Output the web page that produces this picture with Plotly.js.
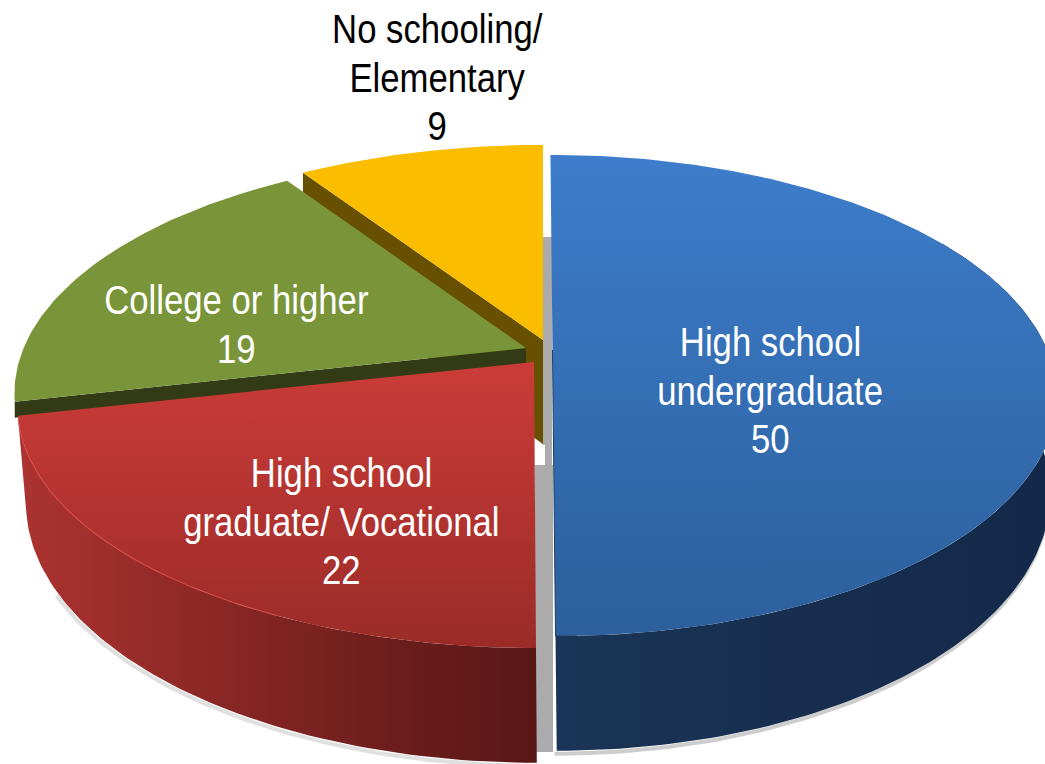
<!DOCTYPE html>
<html>
<head>
<meta charset="utf-8">
<script src="https://cdn.plot.ly/plotly-3.0.1.min.js"></script>
<style>html,body{margin:0;padding:0;background:#fff;overflow:hidden}#chart{width:1045px;height:764px}</style>
</head>
<body>
<div id="chart"></div>
<script>
// ---- data ----
var categories = ["High school undergraduate", "High school graduate/ Vocational", "College or higher", "No schooling/ Elementary"];
var values = [50, 22, 19, 9];
var labelLines = [["High school", "undergraduate", "50"], ["High school", "graduate/ Vocational", "22"], ["College or higher", "19"], ["No schooling/", "Elementary", "9"]];

// ---- placement and style ----
var labelX = [770, 341, 236, 437];
var labelFirstY = [342, 473, 300, 29];
var LINE_STEP = 48.5, FONT_SIZE = 40, TEXT_SQUEEZE = 0.868;
var labelColor = ["#ffffff", "#ffffff", "#ffffff", "#000000"];
var apexX = [552.5, 534, 526, 543];
var apexY = [350, 362, 348, 340];
var skew = [0.0105, 0.007, 0, 0];
var radiusScale = [0.97, 0.995, 0.985, 0.99];
var gradientStart = [155, 362, 150, 145];
var gradientStop = [635, 648, 400, 340];
var topColors = [["#3d7dcb", "#2c5f9c"], ["#cb3c38", "#9b2b28"], ["#7a9539", "#7a9539"], ["#fbbd00", "#fbbd00"]];
var cutColors = [null, null, "#323a16", "#675000"];
var cutDepth = [0, 0, 16, 93];
var edgeNudge = [0, 0, -2, -1, 0];   // perspective correction of drawn edge angles, in degrees
var RX = 510, RY = 232, K = 0.189, DEPTH = 93, WALLX = 0.985;

function project(i, deg, lower) {
  var t = deg * Math.PI / 180, X = Math.sin(t), Z = Math.cos(t), s = 1 / (1 + K * Z);
  var dx = RX * radiusScale[i] * X * s, dy = -RY * Z * s;
  if (lower) { dx *= WALLX; dy += DEPTH * s; }
  return [apexX[i] + dx + skew[i] * dy, apexY[i] + dy];
}
function arc(i, a, b, lower) {
  var pts = [], n = Math.max(2, Math.round(Math.abs(b - a)));
  for (var j = 0; j <= n; j++) pts.push(project(i, a + (b - a) * j / n, lower));
  return pts;
}
function poly(pts, extra) {
  var t = {type: "scatter", mode: "lines", x: pts.map(function (p) { return p[0]; }), y: pts.map(function (p) { return p[1]; }),
    fill: "toself", line: {width: 0}, hoverinfo: "skip", showlegend: false};
  for (var k in extra) t[k] = extra[k];
  return t;
}
function outline(pts, color, width, dx, dy) {
  return {type: "scatter", mode: "lines", x: pts.map(function (p) { return p[0] + (dx || 0); }), y: pts.map(function (p) { return p[1] + (dy || 0); }),
    line: {color: color, width: width}, hoverinfo: "skip", showlegend: false};
}

var total = values.reduce(function (a, b) { return a + b; }, 0);
var edges = [0];
values.forEach(function (v, i) { edges.push(edges[i] + v / total * 360); });
edges = edges.map(function (e, i) { return e + edgeNudge[i]; });

function topSector(i) {
  var pts = [[apexX[i], apexY[i]]].concat(arc(i, edges[i], edges[i + 1], false));
  pts.push([apexX[i], apexY[i]]);
  return poly(pts, {fillcolor: topColors[i][0], fillgradient: {type: "vertical", start: gradientStart[i], stop: gradientStop[i],
    colorscale: [[0, topColors[i][0]], [1, topColors[i][1]]]}});
}
function outerWall(i, a, b, scale, start, stop) {
  var pts = arc(i, a, b, false).concat(arc(i, b, a, true));
  return poly(pts, {fillcolor: scale[0][1], fillgradient: {type: "horizontal", start: start, stop: stop, colorscale: scale}});
}
function cutWall(i, deg) {
  var rim = project(i, deg, false), d = cutDepth[i];
  var pts = [rim, [apexX[i], apexY[i]], [apexX[i], apexY[i] + d * 1.12], [rim[0], rim[1] + d], rim];
  return poly(pts, {fillcolor: cutColors[i]});
}

var blueWall = [[0, "#1a3557"], [0.5, "#172e4e"], [1, "#14294a"]];
var redWall = [[0, "#ab3331"], [0.35, "#8c2826"], [0.75, "#6a1d1b"], [1, "#581716"]];

var traces = [
  // soft shadows around the solid
  outline(arc(0, 95, 180, true), "rgba(130,130,130,0.40)", 4, -2, 3),
  outline(arc(1, 180, 240, true), "rgba(130,130,130,0.25)", 4, -1, 3),
  // yellow slice
  cutWall(3, edges[3]),
  topSector(3),
  // green slice
  cutWall(2, edges[2]),
  topSector(2),
  // blue slice
  outerWall(0, 60, 180, blueWall, 555, 1045),
  topSector(0),
  outline(arc(0, 178, 180, false).concat([[apexX[0], apexY[0]]]), "#1c3c66", 1),
  // red slice
  outerWall(1, 180, edges[2], redWall, 25, 536),
  topSector(1),
  outline(arc(1, 205, edges[2] - 1, false), "rgba(224,72,66,0.65)", 1.3)
];

var annotations = [];
labelLines.forEach(function (lines, i) {
  lines.forEach(function (line, j) {
    annotations.push({x: labelX[i], y: labelFirstY[i] + j * LINE_STEP, xref: "x", yref: "y", text: line, showarrow: false,
      align: "center", xanchor: "center", yanchor: "middle",
      font: {family: "'Liberation Sans', Arial, sans-serif", size: FONT_SIZE, color: labelColor[i]}});
  });
});

var layout = {
  width: 1045, height: 764, margin: {l: 0, r: 0, t: 0, b: 0},
  paper_bgcolor: "#ffffff", plot_bgcolor: "#ffffff", showlegend: false, hovermode: false,
  xaxis: {range: [0, 1045], visible: false, fixedrange: true},
  yaxis: {range: [764, 0], visible: false, fixedrange: true},
  annotations: annotations,
  shapes: [
    {type: "rect", layer: "below", xref: "x", yref: "y", x0: 543, x1: 552, y0: 237, y1: 445, fillcolor: "#ababab", line: {width: 0}},
    {type: "rect", layer: "below", xref: "x", yref: "y", x0: 545, x1: 552, y0: 445, y1: 465, fillcolor: "#ababab", line: {width: 0}},
    {type: "rect", layer: "below", xref: "x", yref: "y", x0: 535, x1: 553, y0: 465, y1: 752, fillcolor: "#ababab", line: {width: 0}}
  ]
};
Plotly.newPlot("chart", traces, layout, {displayModeBar: false, staticPlot: true}).then(function () {
  // the reference type is a condensed sans: narrow the real text horizontally about its own centre
  document.querySelectorAll("#chart text.annotation-text").forEach(function (el) {
    var b = el.getBBox(), cx = b.x + b.width / 2;
    el.setAttribute("transform", "translate(" + cx + ",0) scale(" + TEXT_SQUEEZE + ",1) translate(" + (-cx) + ",0)");
  });
});
</script>
</body>
</html>
